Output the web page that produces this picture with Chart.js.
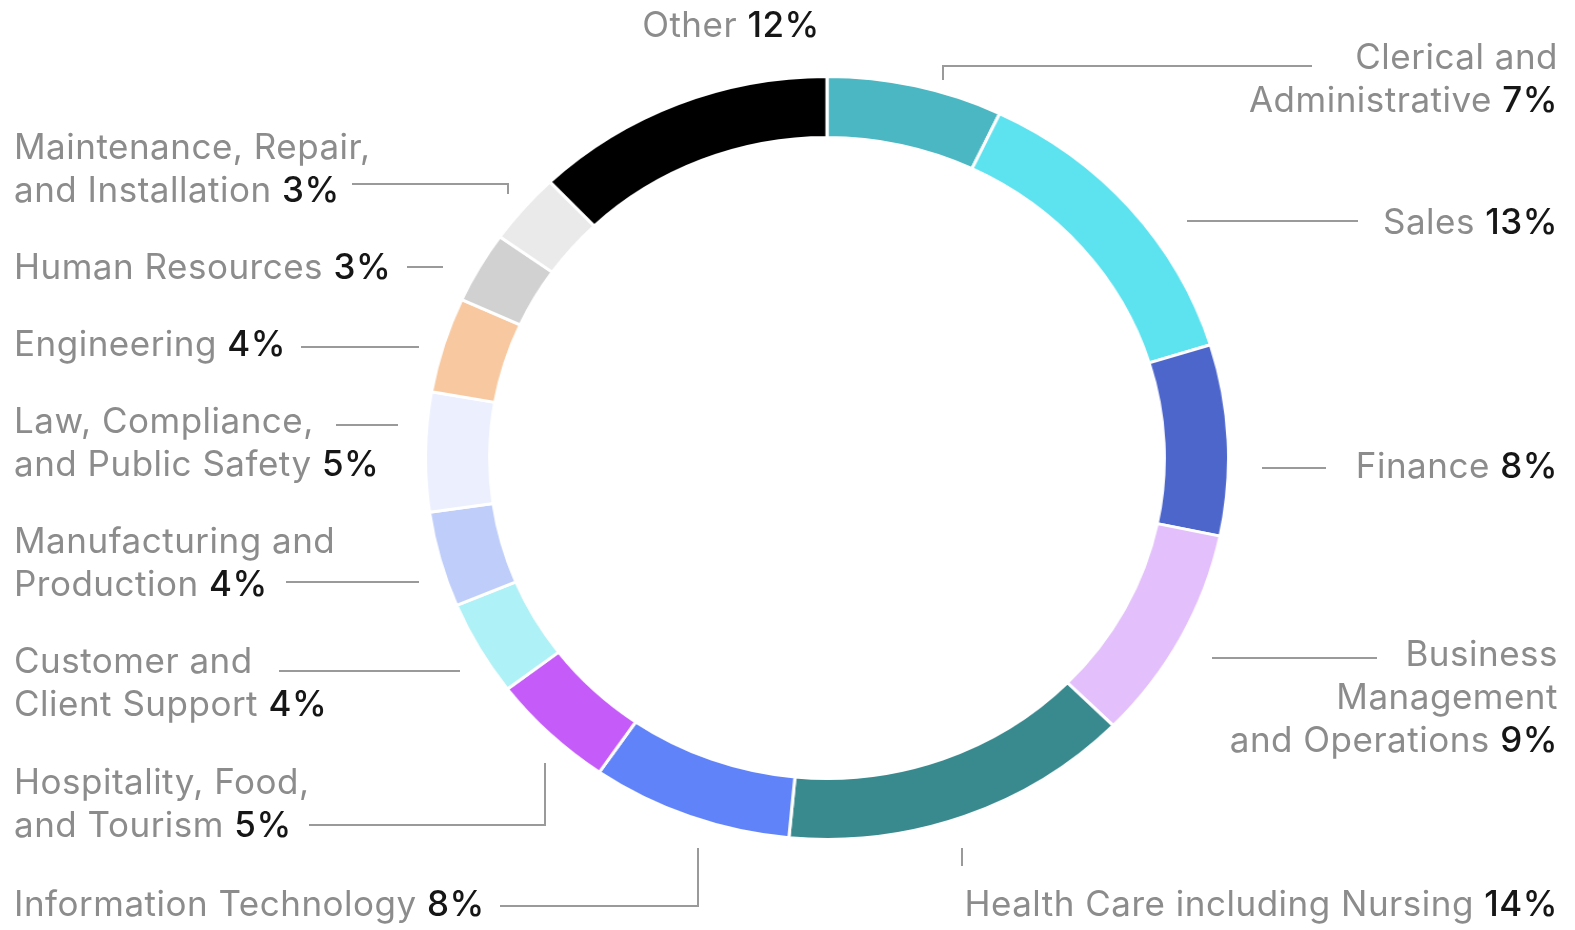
<!DOCTYPE html>
<html>
<head>
<meta charset="utf-8">
<title>Occupations</title>
<script src="https://cdn.jsdelivr.net/npm/chart.js@4.4.1/dist/chart.umd.min.js"></script>
<style>
  html, body { margin: 0; padding: 0; background: #fff; }
  #page { position: relative; width: 1575px; height: 930px; overflow: hidden; font-family: Inter, 'Noto Sans', sans-serif; }
  /* the ring in the source is a little wider than tall, so the circle is stretched */
  #ring { position: absolute; left: 444px; top: 75px; width: 766px; height: 766px; transform: scaleX(1.0526); transform-origin: 50% 50%; }
  .lbl { position: absolute; font-size: 35px; line-height: 43px; letter-spacing: 0.5px; color: #8c8c8c; white-space: nowrap; }
  .lbl b { color: #161616; font-weight: 500; }
  svg { position: absolute; left: 0; top: 0; }
</style>
</head>
<body>
<div id="page">
  <div id="ring"><canvas id="chart"></canvas></div>
  <svg id="leaders" width="1575" height="930"></svg>
</div>
<script>
const categories = [
  'Clerical and Administrative', 'Sales', 'Finance', 'Business Management and Operations',
  'Health Care including Nursing', 'Information Technology', 'Hospitality, Food, and Tourism',
  'Customer and Client Support', 'Manufacturing and Production', 'Law, Compliance, and Public Safety',
  'Engineering', 'Human Resources', 'Maintenance, Repair, and Installation', 'Other'
];
const shares = [7, 13, 8, 9, 14, 8, 5, 4, 4, 5, 4, 3, 3, 12];
const colors = [
  '#4ab7c2', '#5de3ef', '#4d66cc', '#e3bffc', '#388a8f', '#6083fa', '#c55bf9',
  '#aef1f6', '#becdf9', '#ecf0fe', '#f8c9a0', '#d1d1d1', '#eaeaea', '#000000'
];
// how each label wraps in the graphic
const labelLines = [
  ['Clerical and', 'Administrative'], ['Sales'], ['Finance'], ['Business', 'Management', 'and Operations'],
  ['Health Care including Nursing'], ['Information Technology'], ['Hospitality, Food,', 'and Tourism'],
  ['Customer and', 'Client Support'], ['Manufacturing and', 'Production'], ['Law, Compliance,', 'and Public Safety'],
  ['Engineering'], ['Human Resources'], ['Maintenance, Repair,', 'and Installation'], ['Other']
];

// label placement (x is left edge, right edge or centre depending on align)
const labelPos = [
  { x: 1558, y: 35, align: 'right' },
  { x: 1558, y: 200, align: 'right' },
  { x: 1558, y: 444, align: 'right' },
  { x: 1558, y: 632, align: 'right' },
  { x: 1558, y: 882, align: 'right' },
  { x: 14, y: 882, align: 'left' },
  { x: 14, y: 760, align: 'left' },
  { x: 14, y: 639, align: 'left' },
  { x: 14, y: 519, align: 'left' },
  { x: 14, y: 399, align: 'left' },
  { x: 14, y: 322, align: 'left' },
  { x: 14, y: 245, align: 'left' },
  { x: 14, y: 125, align: 'left' },
  { x: 731, y: 3, align: 'center' }
];
const leaders = [
  'M943,80 V66 H1312', 'M1187,221 H1358', 'M1262,468 H1326', 'M1212,658 H1377',
  'M962,848 V866', 'M698,848 V906 H500', 'M545,763 V825 H309', 'M460,671 H279',
  'M419,582 H286', 'M398,425 H336', 'M419,347 H301', 'M443,267 H407', 'M508,194 V184 H352', null
];

const page = document.getElementById('page');
categories.forEach((cat, i) => {
  const div = document.createElement('div');
  div.className = 'lbl';
  const lines = labelLines[i];
  div.innerHTML = lines.map((l, k) => k === lines.length - 1 ? l + ' <b>' + shares[i] + '%</b>' : l).join('<br>');
  const p = labelPos[i];
  div.style.top = p.y + 'px';
  if (p.align === 'right') {
    div.style.right = (1575 - p.x) + 'px';
    div.style.textAlign = 'right';
  } else if (p.align === 'center') {
    div.style.left = p.x + 'px';
    div.style.transform = 'translateX(-50%)';
  } else {
    div.style.left = p.x + 'px';
  }
  page.appendChild(div);
});

const svg = document.getElementById('leaders');
leaders.forEach(d => {
  if (!d) return;
  const path = document.createElementNS('http://www.w3.org/2000/svg', 'path');
  path.setAttribute('d', d);
  path.setAttribute('fill', 'none');
  path.setAttribute('stroke', '#9a9a9a');
  path.setAttribute('stroke-width', '2');
  svg.appendChild(path);
});

new Chart(document.getElementById('chart'), {
  type: 'doughnut',
  data: {
    labels: categories,
    datasets: [{
      data: shares,
      backgroundColor: colors,
      borderColor: '#fff',
      borderWidth: 3
    }]
  },
  options: {
    responsive: true,
    maintainAspectRatio: false,
    animation: false,
    cutout: '84%',
    layout: { padding: 0 },
    plugins: {
      legend: { display: false },
      tooltip: { enabled: false }
    }
  }
});
</script>
</body>
</html>
